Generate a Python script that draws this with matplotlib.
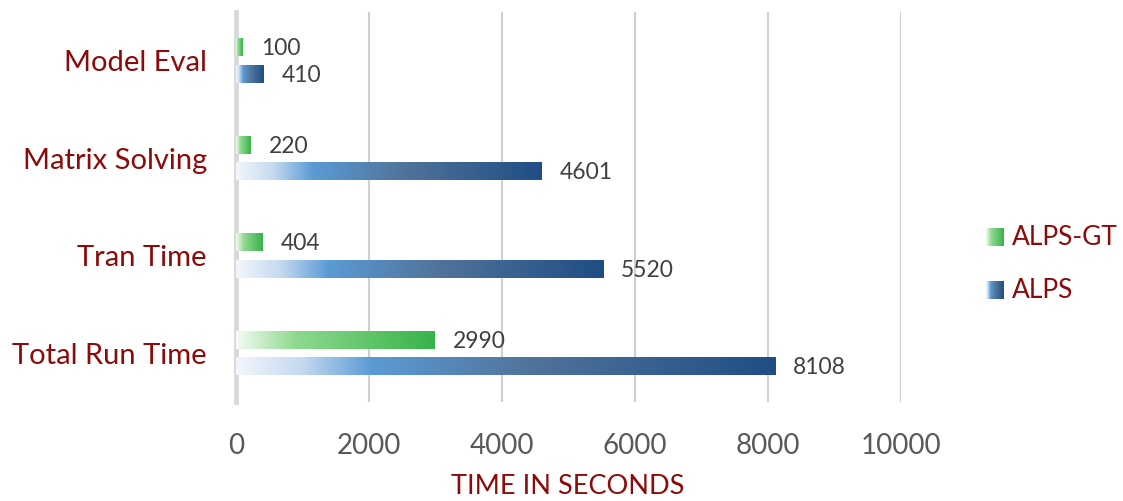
import numpy as np
import matplotlib
matplotlib.use("Agg")
import matplotlib.pyplot as plt
from matplotlib.colors import LinearSegmentedColormap

categories = ["Total Run Time", "Tran Time", "Matrix Solving", "Model Eval"]
alps_gt = [2990, 404, 220, 100]
alps = [8108, 5520, 4601, 410]
series_names = ["ALPS-GT", "ALPS"]
xticks = [0, 2000, 4000, 6000, 8000, 10000]
xlabel = "TIME IN SECONDS"

FONT = ["Lato", "DejaVu Sans"]
plt.rcParams["font.family"] = FONT
DARKRED = "#8B0A0A"
GRAY = "#595959"

green_cmap = LinearSegmentedColormap.from_list(
    "g", [(0, "#f4fbf4"), (0.3, "#8fd98f"), (1.0, "#37b34a")])
blue_cmap = LinearSegmentedColormap.from_list(
    "b", [(0, "#f2f6fc"), (0.12, "#c5daf0"), (0.25, "#5b9bd5"), (0.55, "#50739a"), (1.0, "#1f4e85")])

fig = plt.figure(figsize=(11.23, 5.01), dpi=100)
ax = fig.add_axes([236/1123, 1-402/501, (901-236)/1123, (402-12)/501])

grad = np.linspace(0, 1, 256).reshape(1, -1)
h = 0.18
off = 0.135
for i, cat in enumerate(categories):
    for val, cmap, dy in [(alps_gt[i], green_cmap, off), (alps[i], blue_cmap, -off)]:
        y = i + dy
        ax.imshow(grad, cmap=cmap, extent=[0, val, y - h/2, y + h/2],
                  aspect="auto", interpolation="bilinear", zorder=3)
        ax.annotate(str(val), (val, y), xytext=(13, -1), textcoords="offset points",
                    va="center", ha="left", fontsize=16.5, color="#404040", zorder=4)

ax.set_xlim(0, 10000)
ax.set_ylim(-0.5, 3.5)
ax.set_xticks(xticks)
ax.set_xticklabels([str(t) for t in xticks], fontsize=20, color=GRAY)
ax.tick_params(axis="x", length=0, pad=22)
ax.set_yticks(range(len(categories)))
ax.set_yticklabels(categories, fontsize=21, color=DARKRED)
ax.tick_params(axis="y", length=0, pad=21)
for t in xticks[1:]:
    ax.axvline(t, color="#d0d0d0", lw=1.5, zorder=1)
for s in ["top", "right", "bottom"]:
    ax.spines[s].set_visible(False)
ax.spines["left"].set_color("#d9d9d9")
ax.spines["left"].set_linewidth(3.5)
fig.text(568/1123, 1-487/501, xlabel, fontsize=19.5, color=DARKRED, ha="center", va="center")

# legend
for name, cmap, yc in [(series_names[0], green_cmap, 237), (series_names[1], blue_cmap, 290)]:
    sw = fig.add_axes([986/1123, 1-(yc+9)/501, 17/1123, 18/501])
    sw.imshow(grad, cmap=cmap, aspect="auto", extent=[0, 1, 0, 1])
    sw.set_axis_off()
    fig.text(1012/1123, 1-yc/501, name, fontsize=19, color=DARKRED, va="center", ha="left")

fig.savefig("out.png", dpi=100)
